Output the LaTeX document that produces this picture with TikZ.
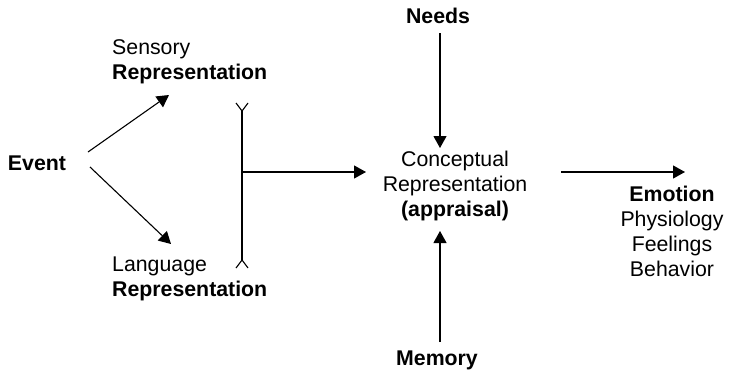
\documentclass[tikz,border=0pt]{standalone}
\usepackage{fontspec}
\setmainfont{Liberation Sans}
\usetikzlibrary{arrows.meta,calc}
\begin{document}
\begin{tikzpicture}[x=1pt,y=-1pt,
  lbl/.style={inner sep=0pt,font=\fontsize{21.3}{25}\selectfont,align=center},
  line/.style={line width=1.1pt,black},
  arr/.style={line, -{Triangle[length=12pt,width=13pt]}}]
\useasboundingbox (0,0) rectangle (729,372);

% labels
\node[lbl] (ev) at (37,163) {\textbf{Event}};
\node[lbl,anchor=west,align=left] (sens) at (112,62) {Sensory\\\textbf{Representation}};
\node[lbl,anchor=west,align=left] (lang) at (112,279) {Language\\\textbf{Representation}};
\node[lbl] (needs) at (438,16) {\textbf{Needs}};
\node[lbl] (conc) at (455,186) {Conceptual\\Representation\\\textbf{(appraisal)}};
\node[lbl] (mem) at (437,360) {\textbf{Memory}};
\node[lbl] (emo) at (672,231) {\textbf{Emotion}\\Physiology\\Feelings\\Behavior};

% connector end points
\coordinate (evup) at (88,152);
\coordinate (evdn) at (90,167);
\coordinate (sensin) at (169,95);
\coordinate (langin) at (171,244);
\coordinate (bartop) at (242,111);
\coordinate (barbot) at (242,260);
\coordinate (barmid) at (242,172);
\coordinate (concin) at (366,172);
\coordinate (concout) at (561,172);
\coordinate (emoin) at (685,172);
\coordinate (needsout) at (440,33);
\coordinate (conctop) at (440,148);
\coordinate (memout) at (440,342);
\coordinate (concbot) at (440,231);

% arrows from the event
\draw[arr] (evup) -- (sensin);
\draw[arr] (evdn) -- (langin);

% combining bar with forked ends
\draw[line] (bartop) -- (barbot);
\draw[line] ($(bartop)+(-6,-8)$) -- (bartop) -- ($(bartop)+(6,-8)$);
\draw[line] ($(barbot)+(-6,8)$) -- (barbot) -- ($(barbot)+(6,8)$);
\draw[arr] (barmid) -- (concin);

% inputs and output of the appraisal
\draw[arr] (needsout) -- (conctop);
\draw[arr] (memout) -- (concbot);
\draw[arr] (concout) -- (emoin);
\end{tikzpicture}
\end{document}
